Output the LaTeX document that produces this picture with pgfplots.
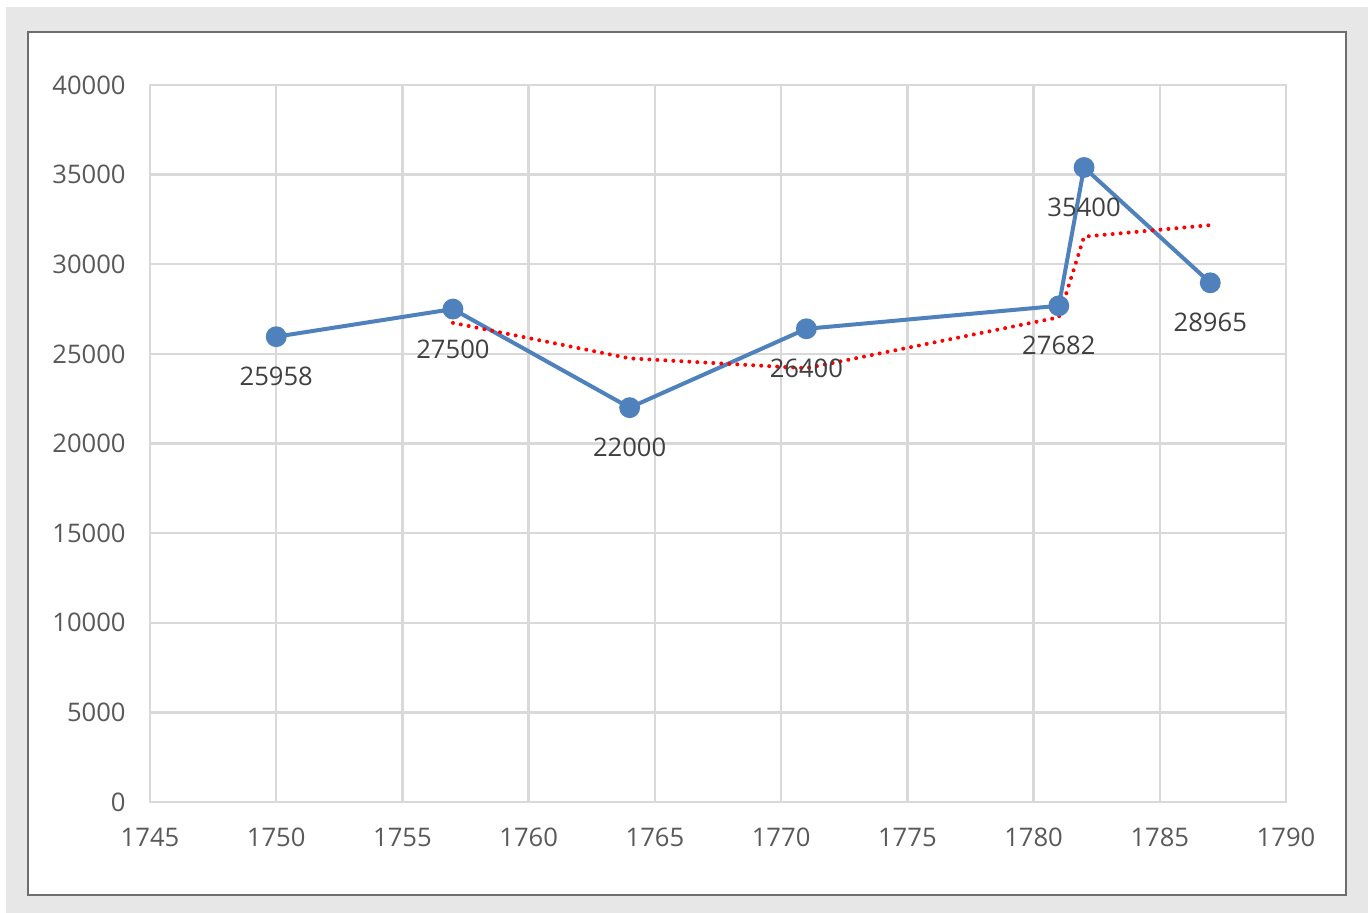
\documentclass[border=0pt]{standalone}
\usepackage{pgfplots}
\pgfplotsset{compat=1.18}
\usepackage{fontspec}
\setmainfont{Open Sans}
\definecolor{bgray}{RGB}{231,231,231}
\definecolor{gridc}{RGB}{217,217,217}
\definecolor{ticklab}{RGB}{89,89,89}
\definecolor{datalab}{RGB}{64,64,64}
\definecolor{serblue}{RGB}{79,129,189}
\definecolor{framec}{RGB}{110,110,110}
\begin{document}
\begin{tikzpicture}
% page background and chart frame
\fill[white] (0pt,0pt) rectangle (684pt,-456.5pt);
\fill[bgray] (3pt,-3.5pt) rectangle (684pt,-456.5pt);
\draw[framec, fill=white, line width=0.6pt] (14pt,-16pt) rectangle (673pt,-447.5pt);
\begin{axis}[
  at={(75pt,-401pt)}, anchor=south west,
  scale only axis, width=568pt, height=358.5pt,
  xmin=1745, xmax=1790, ymin=0, ymax=40000,
  xtick={1745,1750,...,1790}, ytick={0,5000,...,40000},
  scaled ticks=false,
  grid=major, grid style={gridc, line width=1.2pt},
  axis line style={gridc, line width=1.2pt},
  tick style={draw=none},
  /pgf/number format/assume math mode=true,
  /pgf/number format/1000 sep={},
  ticklabel style={font=\fontsize{12.8}{15}\selectfont, text=ticklab, inner sep=0pt},
  xticklabel style={anchor=center, yshift=-17.5pt},
  yticklabel style={anchor=east, xshift=-12pt},
  clip=false,
]
% annual values
\addplot[serblue, line width=2pt, mark=*, mark size=4.2pt,
  mark options={fill=serblue, draw=serblue},
  nodes near coords,
  every node near coord/.append style={anchor=center, yshift=-20pt,
    font=\fontsize{12.8}{15}\selectfont, text=datalab, inner sep=0pt},
  point meta=explicit symbolic]
  coordinates {
  (1750,25958) [25958]
  (1757,27500) [27500]
  (1764,22000) [22000]
  (1771,26400) [26400]
  (1781,27682) [27682]
  (1782,35400) [35400]
  (1787,28965) [28965]
};
% two-period moving average
\addplot[red, line width=2pt, line cap=round, dash pattern=on 0pt off 4pt]
  coordinates {
  (1757,26729)
  (1764,24750)
  (1771,24200)
  (1781,27041)
  (1782,31541)
  (1787,32182.5)
};
\end{axis}
\end{tikzpicture}
\end{document}
